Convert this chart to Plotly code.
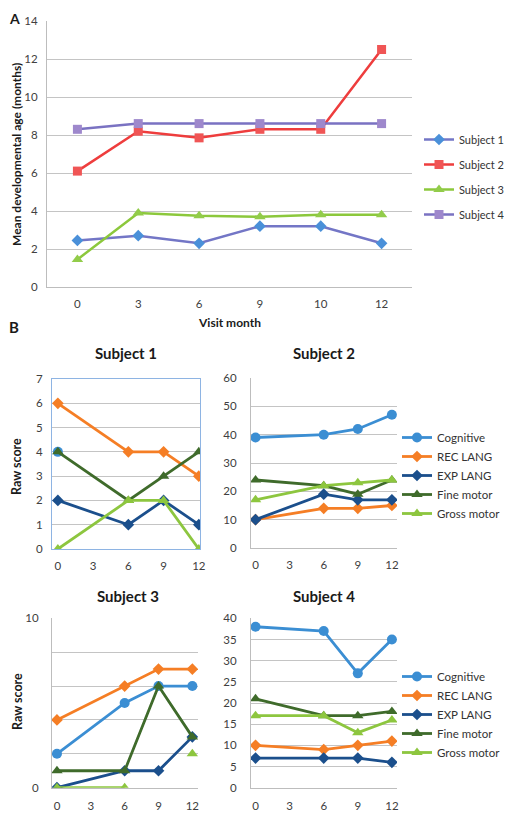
import plotly.graph_objects as go

FONT = "Lato"
# page has an 8px body margin; figure sized so it fills the 512x817 window
OFF = 8
W, H = 512 - OFF, 817 - OFF

# ---------------- Panel A data ----------------
visit_months_A = ["0", "3", "6", "9", "10", "12"]
subject1_A = [2.45, 2.7, 2.3, 3.2, 3.2, 2.3]
subject2_A = [6.1, 8.2, 7.85, 8.3, 8.3, 12.5]
subject3_A = [1.45, 3.9, 3.75, 3.7, 3.8, 3.8]
subject4_A = [8.3, 8.6, 8.6, 8.6, 8.6, 8.6]

# ---------------- Panel B data ----------------
visit_months_B = [0, 6, 9, 12]
domains = ["Cognitive", "REC LANG", "EXP LANG", "Fine motor", "Gross motor"]

s1_cognitive = [4, None, None, None]
s1_rec = [6, 4, 4, 3]
s1_exp = [2, 1, 2, 1]
s1_fine = [4, 2, 3, 4]
s1_gross = [0, 2, 2, 0]

s2_cognitive = [39, 40, 42, 47]
s2_rec = [10, 14, 14, 15]
s2_exp = [10, 19, 17, 17]
s2_fine = [24, 22, 19, 24]
s2_gross = [17, 22, 23, 24]

s3_cognitive = [2, 5, 6, 6]
s3_rec = [4, 6, 7, 7]
s3_exp = [0, 1, 1, 3]
s3_fine = [1, 1, 6, 3]
s3_gross = [0, 0, None, 2]

s4_cognitive = [38, 37, 27, 35]
s4_rec = [10, 9, 10, 11]
s4_exp = [7, 7, 7, 6]
s4_fine = [21, 17, 17, 18]
s4_gross = [17, 17, 13, 16]

# ---------------- styles ----------------
A_styles = [
    ("Subject 1", subject1_A, "#7376C6", "#4A90D9", "diamond", 9),
    ("Subject 2", subject2_A, "#EE3D3D", "#F05555", "square", 9),
    ("Subject 3", subject3_A, "#8CC83C", "#92CC4A", "triangle-up", 10),
    ("Subject 4", subject4_A, "#7A72C2", "#9E88CC", "square", 9),
]
B_colors = ["#3B8ED3", "#F57E25", "#1B4F8C", "#3F6B2B", "#8DC63F"]
B_symbols = ["circle", "diamond", "diamond", "triangle-up", "triangle-up"]
B_sizes = [10, 9, 9, 10, 10]

fig = go.Figure()

for i, (name, vals, lc, mc, sym, ms) in enumerate(A_styles):
    fig.add_trace(go.Scatter(
        x=visit_months_A, y=vals, name=name, mode="lines+markers",
        line=dict(color=lc, width=2.5),
        marker=dict(color=mc, symbol=sym, size=ms),
        xaxis="x", yaxis="y", legend="legend", legendgroup="A%d" % i,
    ))

subjects_B = [
    ([s1_cognitive, s1_rec, s1_exp, s1_fine, s1_gross], "x2", "y2", None),
    ([s2_cognitive, s2_rec, s2_exp, s2_fine, s2_gross], "x3", "y3", "legend2"),
    ([s3_cognitive, s3_rec, s3_exp, s3_fine, s3_gross], "x4", "y4", None),
    ([s4_cognitive, s4_rec, s4_exp, s4_fine, s4_gross], "x5", "y5", "legend3"),
]
for k, (series, xa, ya, leg) in enumerate(subjects_B):
    for j, vals in enumerate(series):
        fig.add_trace(go.Scatter(
            x=visit_months_B, y=vals, name=domains[j], mode="lines+markers",
            line=dict(color=B_colors[j], width=2.8),
            marker=dict(color=B_colors[j], symbol=B_symbols[j], size=B_sizes[j]),
            xaxis=xa, yaxis=ya, connectgaps=False,
            showlegend=leg is not None,
            legend=leg if leg else "legend",
            legendgroup="B%d_%d" % (k, j),
        ))


def px(x):
    return (x - OFF) / W


def py(y):
    return 1 - (y - OFF) / H


tickfont = dict(family=FONT, size=11.5, color="#404040")
grid = "#C4C4C4"
axline = "#BDBDBD"
common = dict(automargin=False, zeroline=False, ticks="", tickfont=tickfont)

layout = dict(
    template="none",
    width=W, height=H, margin=dict(l=0, r=0, t=0, b=0, pad=0, autoexpand=False),
    paper_bgcolor="white", plot_bgcolor="white",
    font=dict(family=FONT, color="#222"),
    # Panel A
    xaxis=dict(domain=[px(47), px(412)], anchor="y", type="category",
               range=[-0.5, 5.5], showgrid=False, showline=True, linecolor=axline,
               ticklabelstandoff=6, **common),
    yaxis=dict(domain=[py(287), py(21)], anchor="x", range=[0, 14], dtick=2,
               showgrid=True, gridcolor=grid, showline=True, linecolor=axline,
               ticklabelstandoff=6, **common),
    # Subject 1
    xaxis2=dict(domain=[px(52), px(200)], anchor="y2", range=[-0.5, 12.1],
                tickvals=[0, 3, 6, 9, 12], showgrid=False, showline=True, mirror=True,
                linecolor="#8EB4E3", ticklabelstandoff=6, **common),
    yaxis2=dict(domain=[py(549), py(379)], anchor="x2", range=[0, 7], dtick=1,
                showgrid=True, gridcolor=grid, showline=True, mirror=True,
                linecolor="#8EB4E3", ticklabelstandoff=6, **common),
    # Subject 2
    xaxis3=dict(domain=[px(251), px(397)], anchor="y3", range=[-0.4, 12.45],
                tickvals=[0, 3, 6, 9, 12], showgrid=False, showline=True,
                linecolor=axline, ticklabelstandoff=6, **common),
    yaxis3=dict(domain=[py(548), py(378)], anchor="x3", range=[0, 60], dtick=10,
                showgrid=True, gridcolor=grid, showline=True, linecolor=axline,
                ticklabelstandoff=11, **common),
    # Subject 3
    xaxis4=dict(domain=[px(52), px(198)], anchor="y4", range=[-0.44, 12.5],
                tickvals=[0, 3, 6, 9, 12], showgrid=False, showline=True,
                linecolor=axline, ticklabelstandoff=7, **common),
    yaxis4=dict(domain=[py(787.7), py(618.3)], anchor="x4", range=[0, 10],
                tickvals=[0, 2, 4, 6, 8, 10], ticktext=["0", "", "", "", "", "10"],
                showgrid=True, gridcolor=grid, showline=True, linecolor=axline,
                ticklabelstandoff=10, **common),
    # Subject 4
    xaxis5=dict(domain=[px(251), px(397)], anchor="y5", range=[-0.4, 12.45],
                tickvals=[0, 3, 6, 9, 12], showgrid=False, showline=True,
                linecolor=axline, ticklabelstandoff=7, **common),
    yaxis5=dict(domain=[py(787.7), py(618.3)], anchor="x5", range=[0, 40], dtick=5,
                showgrid=True, gridcolor=grid, showline=True, linecolor=axline,
                ticklabelstandoff=11, **common),
    legend=dict(x=px(419), y=py(125), xanchor="left", yanchor="top",
                font=dict(family=FONT, size=11, color="#333"),
                tracegroupgap=6, bgcolor="rgba(0,0,0,0)"),
    legend2=dict(x=px(397), y=py(423), xanchor="left", yanchor="top",
                 font=dict(family=FONT, size=11.5, color="#333"),
                 tracegroupgap=0, bgcolor="rgba(0,0,0,0)"),
    legend3=dict(x=px(397), y=py(662), xanchor="left", yanchor="top",
                 font=dict(family=FONT, size=11.5, color="#333"),
                 tracegroupgap=0, bgcolor="rgba(0,0,0,0)"),
)
fig.update_layout(**layout)

bold = lambda s: dict(family=FONT, size=s, color="#1a1a1a")
annots = [
    ("<b>A</b>", 14.5, 18, 14, 0),
    ("<b>B</b>", 14, 327, 15, 0),
    ("<b>Visit month</b>", 229, 322, 12, 0),
    ("<b>Mean developmental age (months)</b>", 17, 155, 12, -90),
    ("<b>Subject 1</b>", 126, 353, 15, 0),
    ("<b>Subject 2</b>", 324, 353, 15, 0),
    ("<b>Subject 3</b>", 128, 596, 15, 0),
    ("<b>Subject 4</b>", 324, 596, 15, 0),
    ("<b>Raw score</b>", 17, 467, 12.5, -90),
    ("<b>Raw score</b>", 17, 702, 12.5, -90),
]
for text, x, y, s, ang in annots:
    fig.add_annotation(text=text, x=px(x), y=py(y), xref="paper", yref="paper",
                       showarrow=False, font=bold(s), textangle=ang,
                       xanchor="center", yanchor="middle")

fig.write_html("out.html")
